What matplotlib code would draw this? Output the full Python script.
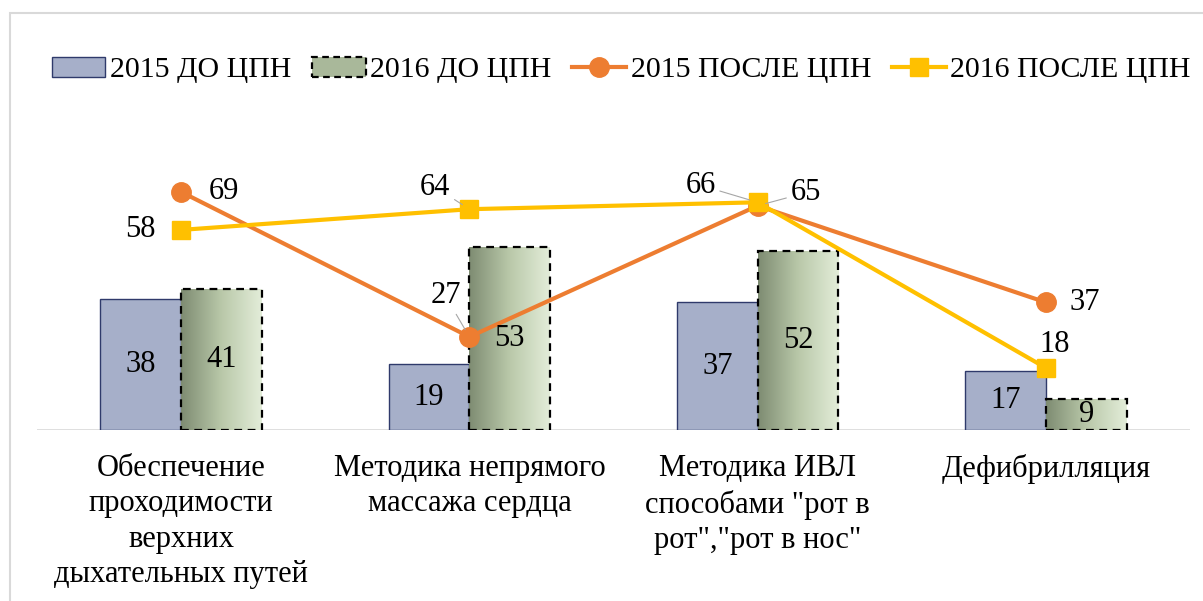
import matplotlib
matplotlib.use("Agg")
import matplotlib.pyplot as plt
import numpy as np
from matplotlib.patches import Rectangle, Patch
from matplotlib.lines import Line2D
from matplotlib.colors import LinearSegmentedColormap

plt.rcParams['font.family'] = ['Liberation Serif', 'DejaVu Serif']

categories = ["Обеспечение\nпроходимости\nверхних\nдыхательных путей",
              "Методика непрямого\nмассажа сердца",
              "Методика ИВЛ\nспособами \"рот в\nрот\",\"рот в нос\"",
              "Дефибрилляция"]
before_2015 = [38, 19, 37, 17]
before_2016 = [41, 53, 52, 9]
after_2015 = [69, 27, 65, 37]
after_2016 = [58, 64, 66, 18]
series_names = ["2015 ДО ЦПН", "2016 ДО ЦПН", "2015 ПОСЛЕ ЦПН", "2016 ПОСЛЕ ЦПН"]

W, H = 1203, 601
fig = plt.figure(figsize=(W / 100, H / 100), dpi=100)
fig.patches.append(Rectangle((10 / W, -0.1), 1.2, (H - 13) / H + 0.1, transform=fig.transFigure,
                             fill=False, edgecolor='#d9d9d9', linewidth=1.5))

ax = fig.add_axes([37 / W, (H - 430) / H, (1190 - 37) / W, (430 - 154) / H])
for s in ax.spines.values():
    s.set_visible(False)
ax.set_yticks([])
ax.axhline(0, color='#d9d9d9', lw=1.2, zorder=1)

x = np.arange(len(categories))
bw = 0.28
blue = '#A6AFC9'
bars1 = ax.bar(x - bw / 2, before_2015, bw, color=blue, edgecolor='#2F3A6B', linewidth=1.0, zorder=2)
bars2 = ax.bar(x + bw / 2, before_2016, bw, color='none', edgecolor='black', linewidth=1.6,
               linestyle=(0, (3.5, 2.5)), zorder=4)
cmap = LinearSegmentedColormap.from_list('g', ['#7E8C72', '#B9C8A9', '#E3EDD9'])
grad = np.linspace(0, 1, 256).reshape(1, -1)
for b in bars2:
    x0, y0 = b.get_x(), b.get_y()
    w, h = b.get_width(), b.get_height()
    im = ax.imshow(grad, cmap=cmap, extent=(x0, x0 + w, y0, y0 + h), aspect='auto', zorder=3)
    im.set_clip_path(Rectangle((x0, y0), w, h, transform=ax.transData))
ax.set_xlim(-0.5, 3.5)
ax.set_ylim(0, 80)

orange = '#ED7D31'
yellow = '#FFC000'
ax.plot(x, after_2015, color=orange, lw=3, marker='o', markersize=14, zorder=6)
ax.plot(x, after_2016, color=yellow, lw=3, marker='s', markersize=13, zorder=7)

fs = 22
for xi, v in zip(x, before_2015):
    ax.text(xi - bw / 2, v / 2, str(v), ha='center', va='center', fontsize=fs, zorder=8)
for xi, v in zip(x, before_2016):
    ax.text(xi + bw / 2, v / 2, str(v), ha='center', va='center', fontsize=fs, zorder=8)

# label offsets in pixels and whether a leader line is drawn
lab15 = [(43, 0, False), (-24, 41, True), (48, 13, True), (39, 0, False)]
lab16 = [(-41, 0, False), (-34, 22, True), (-57, 17, True), (9, 23, False)]
gray = dict(arrowstyle='-', color='#a6a6a6', lw=0.8, shrinkA=1, shrinkB=6)
for xi, v, (dx, dy, lead) in zip(x, after_2015, lab15):
    ax.annotate(str(v), (xi, v), xytext=(dx, dy), textcoords='offset pixels', ha='center', va='center',
                fontsize=fs, zorder=9, arrowprops=gray if lead else None)
for xi, v, (dx, dy, lead) in zip(x, after_2016, lab16):
    ax.annotate(str(v), (xi, v), xytext=(dx, dy), textcoords='offset pixels', ha='center', va='center',
                fontsize=fs, zorder=9, arrowprops=gray if lead else None)

ax.set_xticks(x)
ax.set_xticklabels(categories, fontsize=fs, linespacing=1.3)
ax.tick_params(axis='x', length=0, pad=17)

handles = [Patch(facecolor=blue, edgecolor='#2F3A6B', linewidth=1.0),
           Patch(facecolor='#A9B89A', edgecolor='black', linewidth=1.6, linestyle=(0, (3, 2))),
           Line2D([0], [0], color=orange, lw=3, marker='o', markersize=14),
           Line2D([0], [0], color=yellow, lw=3, marker='s', markersize=13)]
fig.legend(handles, series_names, loc='center', bbox_to_anchor=(621 / W, (H - 70) / H), ncol=4,
           frameon=False, fontsize=21.5, handlelength=1.8, handletextpad=0.15, columnspacing=0.7,
           borderpad=0, borderaxespad=0)

fig.savefig('out.png', dpi=100)
